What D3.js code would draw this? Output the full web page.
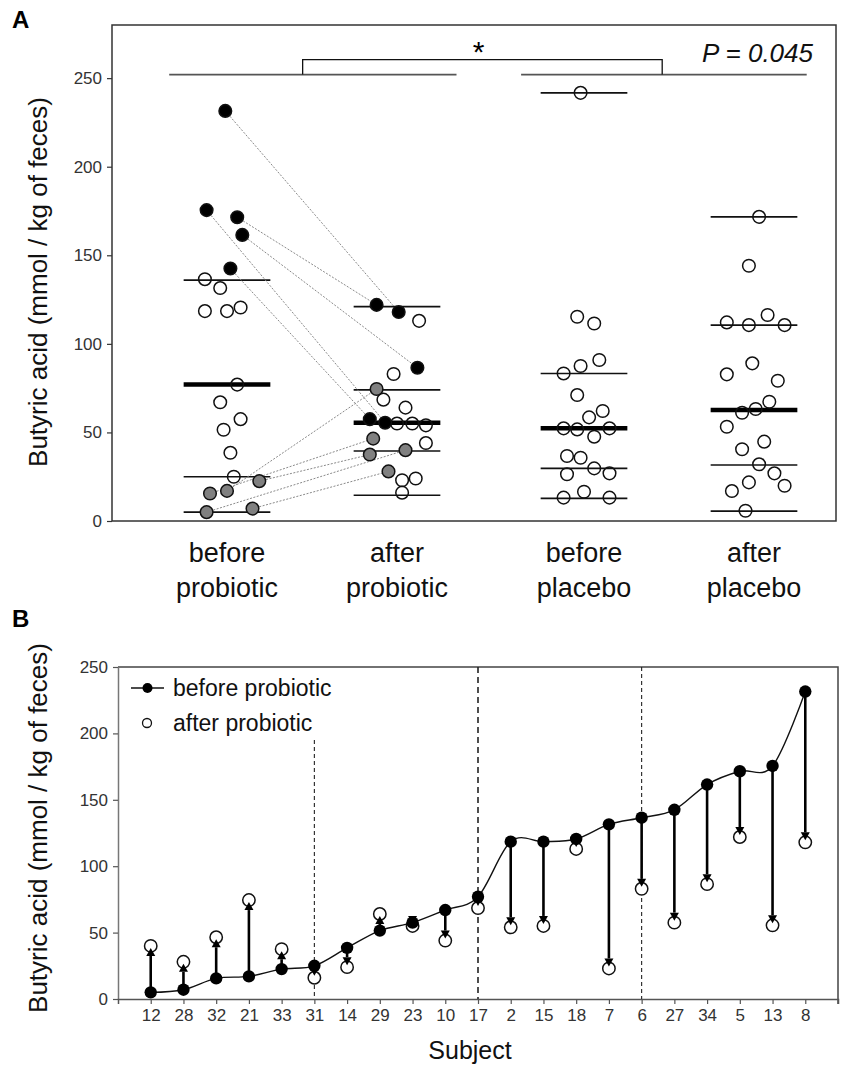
<!DOCTYPE html>
<html>
<head>
<meta charset="utf-8">
<script src="https://cdn.jsdelivr.net/npm/d3@7"></script>
<style>
  body { margin: 0; background: #fff; }
  svg { display: block; font-family: "Liberation Sans", Arial, sans-serif; }
</style>
</head>
<body>
<div id="chart"></div>
<script>
// ---- data ----
// subjects in panel B order (sorted by value before probiotic)
let subjects = [12, 28, 32, 21, 33, 31, 14, 29, 23, 10, 17, 2, 15, 18, 7, 6, 27, 34, 5, 13, 8];
let beforeProbiotic = [5, 7, 15.5, 17, 22.5, 25, 38.5, 51.5, 57.5, 67, 77, 118.5, 118.5, 120.5, 131.5, 136.5, 142.5, 161.5, 171.5, 175.5, 231.5];
let afterProbiotic = [40, 28, 46.5, 74.5, 37.5, 16, 24, 64, 55, 44, 68.5, 54, 55, 113, 23, 83, 57.5, 86.5, 122, 55.5, 118];
// subjects highlighted in panel A
let decreased = [27, 34, 5, 13, 8];
let increased = [12, 28, 32, 21, 33];
// horizontal jitter of panel A dots (fraction of a category)
let jitterBefore = [-0.12, 0.15, -0.10, 0, 0.19, 0.04, 0.02, -0.02, 0.08, -0.04, 0.06, -0.13, 0, 0.08, -0.04, -0.13, 0.02, 0.09, 0.06, -0.12, -0.01];
let jitterAfter = [0.05, -0.05, -0.14, -0.12, -0.16, 0.03, 0.11, 0.05, 0, 0.17, -0.08, 0.17, 0.09, 0.13, 0.03, -0.02, -0.16, 0.12, -0.12, -0.07, 0.01];

let beforePlacebo = [241.7, 115.3, 111.5, 90.9, 87.5, 83.3, 71.1, 62.1, 58.5, 52.3, 51.7, 52.3, 47.6, 36.7, 35.7, 29.7, 26.4, 26.9, 13.2, 16.5, 13.2];
let jitterBeforePlacebo = [-0.02, -0.04, 0.06, 0.09, -0.02, -0.12, -0.04, 0.11, 0.03, -0.12, -0.04, 0.15, 0.06, -0.10, -0.02, 0.06, -0.10, 0.15, -0.12, 0, 0.15];
let afterPlacebo = [171.7, 144.1, 112.1, 110.6, 116.3, 110.6, 89, 82.8, 79.2, 67.3, 63.2, 61.1, 53.2, 44.8, 40.5, 32, 26.9, 19.9, 21.8, 16.9, 5.8];
let jitterAfterPlacebo = [0.03, -0.03, -0.16, -0.03, 0.08, 0.18, -0.01, -0.16, 0.14, 0.09, 0.01, -0.07, -0.16, 0.06, -0.07, 0.03, 0.12, 0.18, -0.03, -0.13, -0.05];

// group summary lines (thin) and the thick central line
let categories = [["before", "probiotic"], ["after", "probiotic"], ["before", "placebo"], ["after", "placebo"]];
let thinLines = [[136, 25, 5], [121, 74, 39.5, 14.5], [241.7, 83.3, 29.7, 12.8], [171.7, 110.6, 31.6, 5.6]];
let thickLines = [77, 55.5, 52.3, 62.6];

// dashed guide lines in panel B: subject and top value
let guideSubjects = [31, 17, 6];
let guideTops = [195, 250, 250];

let yTicksA = [0, 50, 100, 150, 200, 250];
let yTicksB = [0, 50, 100, 150, 200, 250];

// ---- layout ----
let svgWidth = 844, svgHeight = 1068;
let slots = [1, 2, 3.1, 4.1];   // category slots, with a gap between the treatments
let yTitle = "Butyric acid (mmol / kg of feces)";
let font = "'Liberation Sans', Arial, sans-serif";

let svg = d3.select("#chart").append("svg")
    .attr("width", svgWidth)
    .attr("height", svgHeight);

// ================= Panel A =================
let boxA = { left: 112, right: 836, top: 25, bottom: 521 };
let xA = d3.scaleLinear().domain([1, 2]).range([227, 397]);
let yA = d3.scaleLinear().domain([0, 280]).range([boxA.bottom, boxA.top]);

let gA = svg.append("g");

gA.append("rect")
    .attr("x", boxA.left).attr("y", boxA.top)
    .attr("width", boxA.right - boxA.left).attr("height", boxA.bottom - boxA.top)
    .attr("fill", "none").attr("stroke", "#333").attr("stroke-width", 1.5);

let axisA = gA.append("g")
    .attr("transform", `translate(${boxA.left},0)`)
    .call(d3.axisLeft(yA).tickValues(yTicksA).tickSize(5).tickPadding(5).tickSizeOuter(0));
axisA.select(".domain").remove();
axisA.selectAll("line").attr("stroke", "#333").attr("stroke-width", 1.2);
axisA.selectAll("text").attr("font-size", 17).attr("fill", "#333").attr("font-family", font);

gA.append("text")
    .attr("transform", `translate(47, 282) rotate(-90)`)
    .attr("text-anchor", "middle")
    .attr("font-size", 26).attr("fill", "#111")
    .text(yTitle);

gA.append("text").attr("x", 12).attr("y", 28)
    .attr("font-size", 24).attr("font-weight", "bold").text("A");

// category labels
categories.forEach((c, i) => {
    let t = gA.append("text")
        .attr("text-anchor", "middle")
        .attr("font-size", 27).attr("fill", "#111");
    t.append("tspan").attr("x", xA(slots[i])).attr("y", 562).text(c[0]);
    t.append("tspan").attr("x", xA(slots[i])).attr("y", 597).text(c[1]);
});

// summary lines
let halfW = 0.255;
thinLines.forEach((vals, i) => {
    gA.selectAll(null).data(vals).enter().append("line")
        .attr("x1", xA(slots[i] - halfW)).attr("x2", xA(slots[i] + halfW))
        .attr("y1", d => yA(d)).attr("y2", d => yA(d))
        .attr("stroke", "#111").attr("stroke-width", 1.6);
});
gA.selectAll(null).data(thickLines).enter().append("line")
    .attr("x1", (d, i) => xA(slots[i] - halfW)).attr("x2", (d, i) => xA(slots[i] + halfW))
    .attr("y1", d => yA(d)).attr("y2", d => yA(d))
    .attr("stroke", "#000").attr("stroke-width", 4.5);

// significance bracket
let bracketY = yA(252), bracketTop = yA(260.5);
gA.append("line")
    .attr("x1", xA(slots[0] - 0.34)).attr("x2", xA(slots[1] + 0.35))
    .attr("y1", bracketY).attr("y2", bracketY)
    .attr("stroke", "#555").attr("stroke-width", 1.6);
gA.append("line")
    .attr("x1", xA(slots[2] - 0.37)).attr("x2", xA(slots[3] + 0.31))
    .attr("y1", bracketY).attr("y2", bracketY)
    .attr("stroke", "#555").attr("stroke-width", 1.6);
gA.append("path")
    .attr("d", `M${xA(1.445)},${bracketY}V${bracketTop}H${xA(3.56)}V${bracketY}`)
    .attr("fill", "none").attr("stroke", "#111").attr("stroke-width", 1.3);
gA.append("text")
    .attr("x", xA(2.48)).attr("y", yA(259))
    .attr("text-anchor", "middle").attr("font-size", 30).text("*");
gA.append("text")
    .attr("x", 813).attr("y", 62)
    .attr("text-anchor", "end").attr("font-size", 26).attr("font-style", "italic")
    .attr("fill", "#111")
    .text("P = 0.045");

// probiotic records
let probio = subjects.map((s, i) => ({
    subject: s,
    before: beforeProbiotic[i], after: afterProbiotic[i],
    jb: jitterBefore[i], ja: jitterAfter[i],
    kind: decreased.includes(s) ? "down" : increased.includes(s) ? "up" : "none"
}));

// dotted connectors for highlighted subjects
gA.selectAll(".link").data(probio.filter(d => d.kind !== "none")).enter().append("line")
    .attr("class", "link")
    .attr("x1", d => xA(slots[0] + d.jb)).attr("y1", d => yA(d.before))
    .attr("x2", d => xA(slots[1] + d.ja)).attr("y2", d => yA(d.after))
    .attr("stroke", "#8a8a8a").attr("stroke-width", 1).attr("stroke-dasharray", "2,1.5");

let fillOf = k => k === "down" ? "#000" : k === "up" ? "#808080" : "none";
let rA = 6.3;

function drawDots(data, slot) {
    gA.selectAll(null).data(data).enter().append("circle")
        .attr("cx", d => xA(slot + d.j))
        .attr("cy", d => yA(d.v))
        .attr("r", rA)
        .attr("fill", d => fillOf(d.kind))
        .attr("stroke", "#111").attr("stroke-width", 1.5);
}
drawDots(probio.map(d => ({ v: d.before, j: d.jb, kind: d.kind })), slots[0]);
drawDots(probio.map(d => ({ v: d.after, j: d.ja, kind: d.kind })), slots[1]);
drawDots(beforePlacebo.map((v, i) => ({ v: v, j: jitterBeforePlacebo[i], kind: "none" })), slots[2]);
drawDots(afterPlacebo.map((v, i) => ({ v: v, j: jitterAfterPlacebo[i], kind: "none" })), slots[3]);

// ================= Panel B =================
let boxB = { left: 118, right: 838, top: 667, bottom: 999 };
let xB = d3.scalePoint().domain(subjects).range([boxB.left, boxB.right]).padding(1);
let yB = d3.scaleLinear().domain([0, 250]).range([boxB.bottom, boxB.top]);

let gB = svg.append("g");

gB.append("text").attr("x", 12).attr("y", 627)
    .attr("font-size", 24).attr("font-weight", "bold").text("B");

// box top and right
gB.append("path")
    .attr("d", `M${boxB.left},${boxB.top}H${boxB.right}V${boxB.bottom + 5}`)
    .attr("fill", "none").attr("stroke", "#444").attr("stroke-width", 1.5);

let axisBy = gB.append("g")
    .attr("transform", `translate(${boxB.left},0)`)
    .call(d3.axisLeft(yB).tickValues(yTicksB).tickSize(5).tickPadding(5).tickSizeOuter(0));
axisBy.select(".domain").attr("stroke", "#777").attr("stroke-width", 1.5);
axisBy.selectAll("line").attr("stroke", "#555").attr("stroke-width", 1.2);
axisBy.selectAll("text").attr("font-size", 17).attr("fill", "#333").attr("font-family", font);

let axisBx = gB.append("g")
    .attr("transform", `translate(0,${boxB.bottom})`)
    .call(d3.axisBottom(xB).tickSize(5).tickPadding(5).tickSizeOuter(5));
axisBx.select(".domain").attr("stroke", "#555").attr("stroke-width", 1.5);
axisBx.selectAll("line").attr("stroke", "#555").attr("stroke-width", 1.2);
axisBx.selectAll("text").attr("font-size", 17).attr("fill", "#333").attr("font-family", font);

gB.append("text")
    .attr("transform", `translate(47, 828) rotate(-90)`)
    .attr("text-anchor", "middle")
    .attr("font-size", 26).attr("fill", "#111")
    .text(yTitle);

gB.append("text")
    .attr("x", 470).attr("y", 1059)
    .attr("text-anchor", "middle")
    .attr("font-size", 25).attr("fill", "#111")
    .text("Subject");

// dashed guides
gB.selectAll(".guide").data(guideSubjects).enter().append("line")
    .attr("class", "guide")
    .attr("x1", d => xB(d)).attr("x2", d => xB(d))
    .attr("y1", (d, i) => yB(guideTops[i])).attr("y2", yB(0))
    .attr("stroke", "#222")
    .attr("stroke-width", (d, i) => i === 1 ? 1.6 : 1.1)
    .attr("stroke-dasharray", (d, i) => i === 1 ? "6,4" : "4,3");

// smooth line through the before values
let line = d3.line()
    .x(d => xB(d.subject))
    .y(d => yB(d.before))
    .curve(d3.curveCatmullRom.alpha(0));
gB.append("path")
    .datum(probio)
    .attr("d", line)
    .attr("fill", "none").attr("stroke", "#111").attr("stroke-width", 1.4);

let rB = 6.2;
// after circles
gB.selectAll(".after").data(probio).enter().append("circle")
    .attr("class", "after")
    .attr("cx", d => xB(d.subject)).attr("cy", d => yB(d.after))
    .attr("r", rB)
    .attr("fill", "#fff").attr("stroke", "#111").attr("stroke-width", 1.5);

// arrows from before to after
let headH = 8, headW = 4.5;
probio.forEach(d => {
    let x = xB(d.subject);
    let y0 = yB(d.before), ya = yB(d.after);
    let dir = ya > y0 ? 1 : -1;           // 1 = pointing down
    let tip = ya - dir * 2;
    let base = tip - dir * headH;
    if ((base - y0) * dir > 0) {
        gB.append("line")
            .attr("x1", x).attr("x2", x)
            .attr("y1", y0).attr("y2", base)
            .attr("stroke", "#000").attr("stroke-width", 2.6);
    }
    gB.append("path")
        .attr("d", `M${x - headW},${base}L${x + headW},${base}L${x},${tip}Z`)
        .attr("fill", "#000");
});

// before dots
gB.selectAll(".before").data(probio).enter().append("circle")
    .attr("class", "before")
    .attr("cx", d => xB(d.subject)).attr("cy", d => yB(d.before))
    .attr("r", rB)
    .attr("fill", "#000");

// legend
let legend = gB.append("g");
legend.append("line")
    .attr("x1", 131).attr("x2", 164).attr("y1", 688).attr("y2", 688)
    .attr("stroke", "#111").attr("stroke-width", 1.5);
legend.append("circle").attr("cx", 147.5).attr("cy", 688).attr("r", 5).attr("fill", "#000");
legend.append("text").attr("x", 173).attr("y", 696)
    .attr("font-size", 23).attr("fill", "#111").text("before probiotic");
legend.append("circle").attr("cx", 147).attr("cy", 723).attr("r", 4.5)
    .attr("fill", "#fff").attr("stroke", "#111").attr("stroke-width", 1.3);
legend.append("text").attr("x", 173).attr("y", 731)
    .attr("font-size", 23).attr("fill", "#111").text("after probiotic");
</script>
</body>
</html>
